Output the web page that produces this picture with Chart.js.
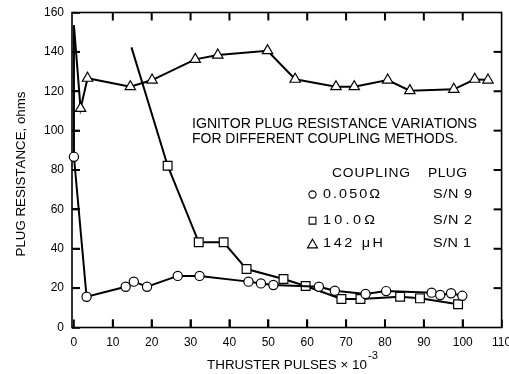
<!DOCTYPE html>
<html><head><meta charset="utf-8">
<script src="https://cdn.jsdelivr.net/npm/chart.js@4"></script>
<style>html,body{margin:0;padding:0;background:#fff}#wrap{width:509px;height:374px;position:relative}</style>
</head><body><div id="wrap"><canvas id="c" width="509" height="374"></canvas></div>
<script>
// ---- data ----
const circleX = [0, 0, 3.25, 13.3, 15.4, 18.8, 26.7, 32.3, 44.9, 48.1, 51.3, 63.0, 67.1, 75.0, 80.3, 92.0, 94.2, 97.0, 99.9];
const circleY = [153.5, 86.7, 15.6, 20.7, 23.3, 20.7, 26.2, 26.2, 23.3, 22.4, 21.6, 20.7, 18.7, 17.0, 18.5, 17.7, 16.5, 17.4, 16.1];
const squareX = [14.8, 24.1, 32.1, 38.5, 44.4, 53.9, 59.6, 68.8, 73.7, 83.9, 89.0, 98.8];
const squareY = [142.3, 82.2, 43.3, 43.3, 29.7, 24.6, 21.1, 14.5, 14.5, 15.6, 14.8, 11.8];
const triX = [0, 1.7, 3.5, 14.5, 20.1, 31.2, 37.0, 49.8, 56.9, 67.4, 72.1, 80.7, 86.4, 97.7, 103.1, 106.5];
const triY = [153.5, 111.3, 126.6, 122.3, 125.7, 136.2, 138.4, 140.6, 126.1, 122.3, 122.3, 125.7, 120.3, 121.0, 126.1, 125.7];
const xTicks = [0, 10, 20, 30, 40, 50, 60, 70, 80, 90, 100, 110];
const yTicks = [0, 20, 40, 60, 80, 100, 120, 140, 160];
const couplingLabels = ['0.050\u03A9', '10.0\u03A9', '142 \u03BCH'];
const plugLabels = ['S/N 9', 'S/N 2', 'S/N 1'];
const titleLines = ['IGNITOR PLUG RESISTANCE VARIATIONS', 'FOR DIFFERENT COUPLING METHODS.'];
const legendHeaders = ['COUPLING', 'PLUG'];
const yTitle = 'PLUG RESISTANCE, ohms';
const xTitle = 'THRUSTER PULSES \u00D7 10';
const xTitleExp = '-3';
const pointStyles = ['circle', 'rect', 'triangle'];

// ---- helpers ----
const FONT = '"Liberation Sans", Arial, sans-serif';
function pts(xs, ys) { return xs.map((x, i) => ({ x: x, y: ys[i] })); }
function radii(n, r, skip) { const a = new Array(n).fill(r); for (let i = 0; i < skip; i++) a[i] = 0; return a; }

// draw text starting at x so that it spans `width` px: stretch up to maxStretch, then extra letter gaps
function fitText(ctx, text, x, y, width, size, maxStretch) {
  maxStretch = maxStretch || 1.15;
  ctx.save();
  ctx.font = size + 'px ' + FONT;
  ctx.textBaseline = 'middle';
  ctx.textAlign = 'left';
  ctx.fillStyle = '#000';
  const chars = Array.from(text);
  const ws = chars.map(c => ctx.measureText(c).width);
  const total = ws.reduce((a, b) => a + b, 0);
  let k = width / total;
  if (k > maxStretch) k = maxStretch;
  const gap = chars.length > 1 ? (width - total * k) / (chars.length - 1) : 0;
  ctx.translate(x, y);
  ctx.scale(k, 1);
  let cx = 0;
  chars.forEach((c, i) => { ctx.fillText(c, cx, 0); cx += ws[i] + gap / k; });
  ctx.restore();
}

function drawSym(ctx, style, x, y, r) {
  ctx.save();
  ctx.fillStyle = '#fff';
  ctx.strokeStyle = '#000';
  ctx.lineWidth = 1.1;
  ctx.beginPath();
  if (style === 'circle') ctx.arc(x, y, r, 0, Math.PI * 2);
  else if (style === 'rect') { const s = r * Math.SQRT1_2; ctx.rect(x - s, y - s, 2 * s, 2 * s); }
  else { ctx.moveTo(x, y - r); ctx.lineTo(x + r * 0.866, y + r / 2); ctx.lineTo(x - r * 0.866, y + r / 2); ctx.closePath(); }
  ctx.fill(); ctx.stroke();
  ctx.restore();
}

function drawFrame(chart) {
  const ctx = chart.ctx, a = chart.chartArea;
  ctx.save();
  ctx.strokeStyle = '#000';
  ctx.lineWidth = 1.6;
  ctx.strokeRect(a.left, a.top, a.right - a.left, a.bottom - a.top);
  ctx.restore();
}

function drawInnerTicks(chart) {
  const ctx = chart.ctx, a = chart.chartArea;
  const xs = chart.scales.x, ys = chart.scales.y;
  const L = 8, W = 2;
  ctx.save();
  ctx.fillStyle = '#000';
  for (let i = 1; i < xTicks.length - 1; i++) {
    const px = xs.getPixelForValue(xTicks[i]);
    ctx.fillRect(px - W / 2, a.bottom - L, W, L);
    ctx.fillRect(px - W / 2, a.top, W, L);
  }
  for (let i = 1; i < yTicks.length - 1; i++) {
    const py = ys.getPixelForValue(yTicks[i]);
    ctx.fillRect(a.left, py - W / 2, L, W);
    ctx.fillRect(a.right - L, py - W / 2, L, W);
  }
  ctx.restore();
}

const framePlugin = {
  id: 'plotFrame',
  beforeDatasetsDraw(chart) { drawFrame(chart); },
  afterDraw(chart) {
    const ctx = chart.ctx;
    drawInnerTicks(chart);
    fitText(ctx, titleLines[0], 192, 124, 285, 14);
    fitText(ctx, titleLines[1], 192, 139.5, 266, 14);
    fitText(ctx, legendHeaders[0], 332, 174, 78, 12);
    fitText(ctx, legendHeaders[1], 428, 174, 39, 12);
    const rowY = [194.5, 220.7, 243.5];
    const symR = [3.6, 4.8, 5.8];
    const symDy = [0, 0, 1.5];
    const cw = [57, 52, 60];
    const pw = [39, 39, 38];
    for (let i = 0; i < 3; i++) {
      drawSym(ctx, pointStyles[i], 312.5, rowY[i] + symDy[i], symR[i]);
      fitText(ctx, couplingLabels[i], 323, rowY[i], cw[i], 12, 1.2);
      fitText(ctx, plugLabels[i], 433, rowY[i], pw[i], 12, 1.2);
    }
    // y axis title
    ctx.save();
    ctx.translate(21, 174);
    ctx.rotate(-Math.PI / 2);
    fitText(ctx, yTitle, -82.5, 0, 165, 13);
    ctx.restore();
    // x axis title
    fitText(ctx, xTitle, 207, 366, 160, 12.5);
    fitText(ctx, xTitleExp, 368, 356, 10, 10);
  }
};

const ds = (label, xs, ys, style, r) => ({
  label: label,
  data: pts(xs, ys),
  showLine: true,
  fill: false,
  borderColor: '#000',
  borderWidth: 2,
  backgroundColor: '#fff',
  pointStyle: style,
  pointRadius: radii(xs.length, r, 1),
  pointBorderWidth: 1.2,
  pointBorderColor: '#000',
  pointBackgroundColor: '#fff',
  tension: 0,
  clip: false
});

new Chart(document.getElementById('c'), {
  type: 'line',
  data: {
    datasets: [
      ds(couplingLabels[0], circleX, circleY, 'circle', 4.6),
      ds(couplingLabels[1], squareX, squareY, 'rect', 6.2),
      ds(couplingLabels[2], triX, triY, 'triangle', 6)
    ]
  },
  options: {
    responsive: false,
    animation: false,
    layout: { padding: { left: 0, top: 12.5, right: 5.5, bottom: 0 } },
    plugins: { legend: { display: false }, tooltip: { enabled: false } },
    scales: {
      x: {
        type: 'linear', min: -0.5, max: 110,
        afterBuildTicks: s => { s.ticks = xTicks.map(v => ({ value: v })); },
        afterFit: s => { s.height = 46.5; s.paddingLeft = 0; s.paddingRight = 0; },
        grid: { display: true, drawOnChartArea: false, drawTicks: true, tickLength: -8, color: '#000', lineWidth: 1.8 },
        border: { display: false },
        ticks: { color: '#000', font: { family: FONT, size: 12 }, padding: 16, maxRotation: 0, autoSkip: false }
      },
      y: {
        type: 'linear', min: 0, max: 160,
        afterBuildTicks: s => { s.ticks = yTicks.map(v => ({ value: v })); },
        afterFit: s => { s.width = 72; s.paddingTop = 0; s.paddingBottom = 0; },
        grid: { display: true, drawOnChartArea: false, drawTicks: true, tickLength: -8, color: '#000', lineWidth: 1.8 },
        border: { display: false },
        ticks: { color: '#000', font: { family: FONT, size: 12 }, padding: 16, autoSkip: false }
      }
    }
  },
  plugins: [framePlugin]
});
</script>
</body></html>
